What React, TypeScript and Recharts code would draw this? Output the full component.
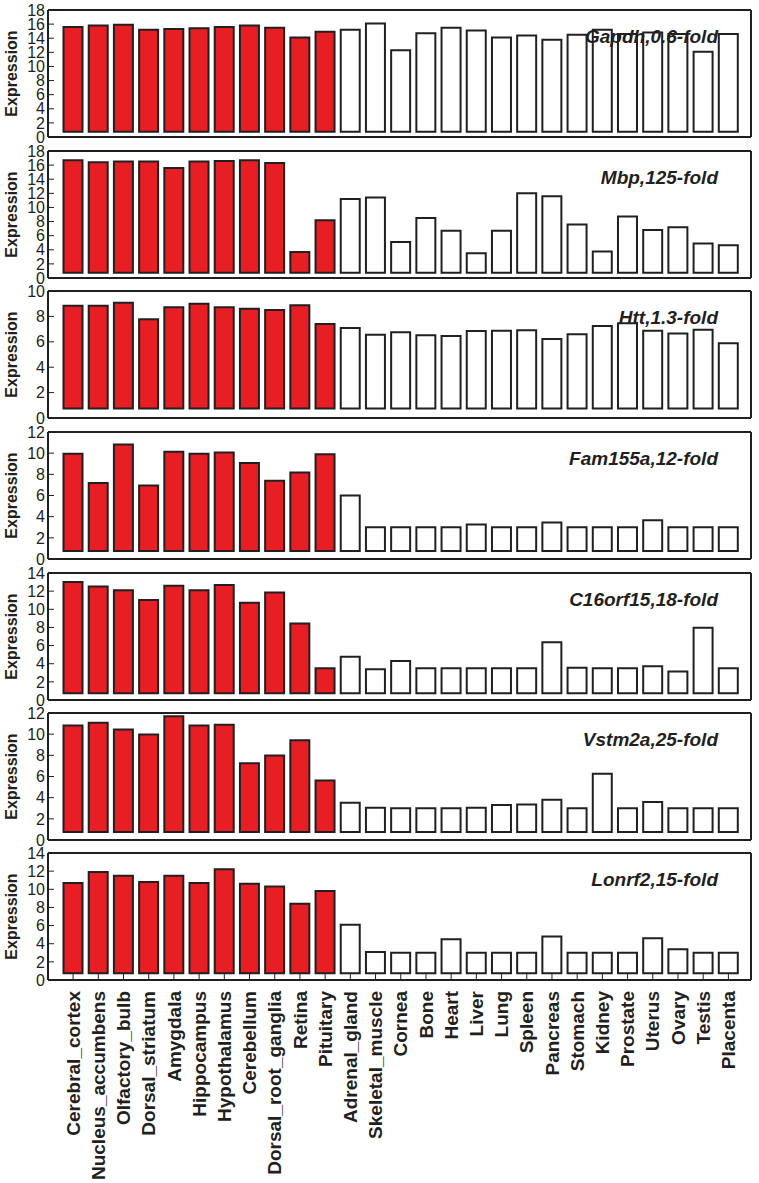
import React from "react";
import { BarChart, Bar, XAxis, YAxis, Cell } from "recharts";

const tissues = [
  "Cerebral_cortex", "Nucleus_accumbens", "Olfactory_bulb", "Dorsal_striatum", "Amygdala",
  "Hippocampus", "Hypothalamus", "Cerebellum", "Dorsal_root_ganglia", "Retina", "Pituitary",
  "Adrenal_gland", "Skeletal_muscle", "Cornea", "Bone", "Heart", "Liver", "Lung", "Spleen",
  "Pancreas", "Stomach", "Kidney", "Prostate", "Uterus", "Ovary", "Testis", "Placenta",
];
const neuralCount = 11;
const barBase = 0.75;

const gapdh = [15.6, 15.8, 15.9, 15.2, 15.3, 15.4, 15.6, 15.8, 15.5, 14.1, 14.9, 15.2, 16.1, 12.3, 14.7, 15.5, 15.1, 14.1, 14.4, 13.8, 14.5, 15.2, 14.6, 14.8, 14.6, 12.1, 14.6];
const mbp = [16.7, 16.4, 16.5, 16.5, 15.6, 16.5, 16.6, 16.7, 16.3, 3.7, 8.2, 11.2, 11.4, 5.1, 8.5, 6.7, 3.5, 6.7, 12.0, 11.6, 7.6, 3.75, 8.7, 6.8, 7.2, 4.9, 4.65];
const htt = [8.84, 8.84, 9.08, 7.77, 8.72, 9.0, 8.72, 8.6, 8.5, 8.87, 7.4, 7.09, 6.56, 6.75, 6.52, 6.46, 6.85, 6.87, 6.9, 6.22, 6.6, 7.24, 7.46, 6.87, 6.65, 6.95, 5.88];
const fam155a = [9.95, 7.17, 10.82, 6.94, 10.13, 9.94, 10.07, 9.06, 7.39, 8.17, 9.9, 6.0, 3.0, 3.0, 3.0, 3.0, 3.25, 3.0, 3.0, 3.44, 3.0, 3.0, 3.0, 3.66, 3.0, 3.0, 3.0];
const c16orf15 = [13.0, 12.5, 12.1, 11.03, 12.6, 12.1, 12.67, 10.73, 11.84, 8.44, 3.51, 4.78, 3.4, 4.29, 3.51, 3.51, 3.51, 3.51, 3.51, 6.37, 3.55, 3.51, 3.51, 3.73, 3.14, 7.96, 3.5];
const vstm2a = [10.82, 11.07, 10.44, 9.97, 11.7, 10.82, 10.88, 7.26, 7.99, 9.43, 5.63, 3.52, 3.05, 3.0, 3.0, 3.0, 3.05, 3.3, 3.36, 3.8, 3.0, 6.25, 3.0, 3.58, 3.0, 3.0, 3.0];
const lonrf2 = [10.7, 11.9, 11.5, 10.8, 11.5, 10.7, 12.2, 10.6, 10.3, 8.4, 9.8, 6.1, 3.1, 3.0, 3.0, 4.5, 3.0, 3.0, 3.0, 4.8, 3.0, 3.0, 3.0, 4.6, 3.4, 3.0, 3.0];

const panelLabels = ["Gapdh,0.6-fold", "Mbp,125-fold", "Htt,1.3-fold", "Fam155a,12-fold", "C16orf15,18-fold", "Vstm2a,25-fold", "Lonrf2,15-fold"];
const panelValues = [gapdh, mbp, htt, fam155a, c16orf15, vstm2a, lonrf2];
const yMax = [18, 18, 10, 12, 14, 12, 14];

// layout
const W = 759;
const H = 1183;
const panelTops = [10, 151, 291, 432, 573, 713, 853];
const plotH = 127;
const axisLeft = 48;
const axisRight = 751;
const INK = "#231f20";
const RED = "#e81e25";
const FONT = "'Liberation Sans', Arial, Helvetica, sans-serif";

const XTick = (p: any) => (
  <text
    x={p.x}
    y={p.y}
    transform={`rotate(-90, ${p.x}, ${p.y})`}
    textAnchor="end"
    dy="0.35em"
    fontSize={19}
    fontWeight="bold"
    fontFamily={FONT}
    fill={INK}
  >
    {p.payload.value}
  </text>
);

function Panel({ idx }: { idx: number }) {
  const last = idx === panelValues.length - 1;
  const rows = tissues.map((name, i) => ({ name, v: panelValues[idx][i] }));
  const max = yMax[idx];
  const ticks: number[] = [];
  for (let t = 0; t <= max; t += 2) ticks.push(t);
  const bottomH = last ? 200 : 10;
  const pad = { left: 12.5, right: 10 };
  return (
    <div style={{ position: "absolute", left: 0, top: panelTops[idx] - 10 }}>
      <BarChart
        width={W}
        height={10 + plotH + bottomH}
        data={rows}
        margin={{ top: 0, right: 0, bottom: 0, left: 0 }}
        barSize={19}
      >
        <XAxis
          dataKey="name"
          xAxisId="b"
          height={bottomH}
          padding={pad}
          interval={0}
          stroke={INK}
          axisLine={{ stroke: INK, strokeWidth: 2 }}
          tickLine={{ stroke: INK, strokeWidth: 1 }}
          tickSize={-6}
          tickMargin={17}
          tick={last ? <XTick /> : false}
        />
        <XAxis
          dataKey="name"
          xAxisId="t"
          orientation="top"
          height={10}
          padding={pad}
          interval={0}
          axisLine={{ stroke: INK, strokeWidth: 2 }}
          tickLine={{ stroke: INK, strokeWidth: 1 }}
          tickSize={-6}
          tick={false}
        />
        <YAxis
          yAxisId="l"
          width={axisLeft}
          type="number"
          domain={[0, max]}
          ticks={ticks}
          interval={0}
          axisLine={{ stroke: INK, strokeWidth: 2 }}
          tickLine={{ stroke: INK, strokeWidth: 1 }}
          tickSize={-6}
          tickMargin={9}
          tick={{ fill: INK, fontSize: 16, fontFamily: FONT }}
        />
        <YAxis
          yAxisId="r"
          orientation="right"
          width={W - axisRight}
          type="number"
          domain={[0, max]}
          ticks={ticks}
          interval={0}
          axisLine={{ stroke: INK, strokeWidth: 2 }}
          tickLine={{ stroke: INK, strokeWidth: 1 }}
          tickSize={-6}
          tick={false}
        />
        <Bar
          xAxisId="b"
          yAxisId="l"
          dataKey={(d: any) => [barBase, d.v]}
          stroke={INK}
          strokeWidth={2}
          isAnimationActive={false}
        >
          {rows.map((r, i) => (
            <Cell key={r.name} fill={i < neuralCount ? RED : "#ffffff"} />
          ))}
        </Bar>
      </BarChart>
    </div>
  );
}

export default function App() {
  return (
    <div style={{ position: "absolute", left: 0, top: 0, width: W, height: H, background: "#fff" }}>
      {panelLabels.map((_, i) => (
        <Panel key={i} idx={i} />
      ))}
      <svg width={W} height={H} style={{ position: "absolute", left: 0, top: 0, pointerEvents: "none" }}>
        {panelLabels.map((lab, i) => {
          const cy = panelTops[i] + plotH / 2;
          return (
            <g key={lab}>
              <text
                x={11}
                y={cy}
                transform={`rotate(-90, 11, ${cy})`}
                textAnchor="middle"
                dy="0.35em"
                fontSize={16}
                fontWeight="bold"
                fontFamily={FONT}
                fill={INK}
              >
                Expression
              </text>
              <text
                x={718}
                y={panelTops[i] + 33}
                textAnchor="end"
                fontSize={19}
                fontWeight="bold"
                fontStyle="italic"
                fontFamily={FONT}
                fill={INK}
              >
                {lab}
              </text>
            </g>
          );
        })}
      </svg>
    </div>
  );
}
